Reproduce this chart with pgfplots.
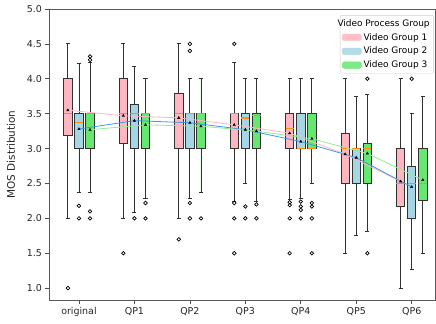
\documentclass[border=0pt]{standalone}
\usepackage{fontspec}
\setmainfont{DejaVu Sans}
\usepackage{pgfplots}
\pgfplotsset{compat=1.18}
\usepgfplotslibrary{statistics}
\definecolor{pinkc}{RGB}{255,182,193}
\definecolor{bluec}{RGB}{166,214,229}
\definecolor{greenc}{RGB}{102,232,112}
\definecolor{medc}{RGB}{255,140,20}
\definecolor{bluel}{RGB}{60,150,235}
\definecolor{greenl}{RGB}{144,238,144}
\definecolor{edgec}{RGB}{50,50,50}
\pgfplotsset{
  bxs/.style={forget plot, draw=edgec, line width=0.8pt,
    mark=o, mark size=1.8pt, mark options={draw=black, fill=none, line width=0.7pt, solid},
    boxplot/draw direction=y,
    boxplot/box extend=0.15, boxplot/whisker extend=0.075,
    boxplot/every median/.style={draw=medc, line width=1.3pt}},
  ml/.style={forget plot, sharp plot, line width=0.8pt, no marks},
  mm/.style={forget plot, only marks, mark=triangle*, mark size=1.4pt, black},
}
\begin{document}
\begin{tikzpicture}
\begin{axis}[
  scale only axis, width=386bp, height=291bp,
  xmin=-0.54, xmax=6.42, ymin=0.83, ymax=5.0,
  xtick={0,1,2,3,4,5,6},
  xticklabels={original,QP1,QP2,QP3,QP4,QP5,QP6},
  ytick={1.0,1.5,2.0,2.5,3.0,3.5,4.0,4.5,5.0},
  yticklabel style={/pgf/number format/.cd, fixed, fixed zerofill, precision=1, assume math mode=true},
  tick label style={font=\fontsize{9.5}{11}\selectfont, text=black!85},
  ylabel={MOS Distribution},
  ylabel style={font=\fontsize{10.5}{12}\selectfont, text=black!85},
  ylabel shift=5bp,
  tick align=outside, tick pos=left,
  major tick length=3.5bp,
  every tick/.style={black!70, line width=0.6pt},
  axis line style={black!65, line width=0.7pt},
  legend cell align=left,
  legend style={at={(rel axis cs:0.997,0.979)}, anchor=north east,
    font=\fontsize{9}{10}\selectfont, draw=black!20, rounded corners=2pt,
    fill=white, fill opacity=0.85, text opacity=1, row sep=1.6bp,
    inner xsep=2bp, inner ysep=2bp},
]
\coordinate (sw) at (rel axis cs:0,0);
\coordinate (ne) at (rel axis cs:1,1);
% original
\addplot[bxs, fill=pinkc, boxplot prepared={draw position=-0.2, lower whisker=2.0, lower quartile=3.19, median=3.5, upper quartile=4.0, upper whisker=4.5}] coordinates {(0,1.0)};
\addplot[bxs, fill=bluec, boxplot prepared={draw position=0, lower whisker=2.37, lower quartile=3.0, median=3.37, upper quartile=3.5, upper whisker=4.22}] coordinates {(0,2.18) (0,2.0)};
\addplot[bxs, fill=greenc, boxplot prepared={draw position=0.2, lower whisker=2.37, lower quartile=3.0, median=3.5, upper quartile=3.5, upper whisker=4.23}] coordinates {(0,4.32) (0,4.27) (0,2.1) (0,2.0)};
% QP1
\addplot[bxs, fill=pinkc, boxplot prepared={draw position=0.8, lower whisker=2.0, lower quartile=3.08, median=3.5, upper quartile=4.0, upper whisker=4.5}] coordinates {(0,1.5)};
\addplot[bxs, fill=bluec, boxplot prepared={draw position=1, lower whisker=2.09, lower quartile=3.0, median=3.5, upper quartile=3.64, upper whisker=4.18}] coordinates {(0,2.0)};
\addplot[bxs, fill=greenc, boxplot prepared={draw position=1.2, lower whisker=2.28, lower quartile=3.0, median=3.5, upper quartile=3.5, upper whisker=4.0}] coordinates {(0,2.22) (0,2.0)};
% QP2
\addplot[bxs, fill=pinkc, boxplot prepared={draw position=1.8, lower whisker=2.0, lower quartile=3.0, median=3.5, upper quartile=3.79, upper whisker=4.5}] coordinates {(0,1.7)};
\addplot[bxs, fill=bluec, boxplot prepared={draw position=2, lower whisker=2.29, lower quartile=3.0, median=3.5, upper quartile=3.5, upper whisker=4.0}] coordinates {(0,4.5) (0,4.4) (0,2.22) (0,2.0)};
\addplot[bxs, fill=greenc, boxplot prepared={draw position=2.2, lower whisker=2.37, lower quartile=3.0, median=3.5, upper quartile=3.5, upper whisker=4.0}] coordinates {(0,2.0)};
% QP3
\addplot[bxs, fill=pinkc, boxplot prepared={draw position=2.8, lower whisker=2.25, lower quartile=3.0, median=3.5, upper quartile=3.5, upper whisker=4.24}] coordinates {(0,4.5) (0,2.22) (0,2.0) (0,1.5)};
\addplot[bxs, fill=bluec, boxplot prepared={draw position=3, lower whisker=2.5, lower quartile=3.0, median=3.44, upper quartile=3.5, upper whisker=4.0}] coordinates {(0,2.17) (0,2.0)};
\addplot[bxs, fill=greenc, boxplot prepared={draw position=3.2, lower whisker=2.25, lower quartile=3.0, median=3.47, upper quartile=3.5, upper whisker=4.0}] coordinates {(0,2.2) (0,2.0)};
% QP4
\addplot[bxs, fill=pinkc, boxplot prepared={draw position=3.8, lower whisker=2.27, lower quartile=3.0, median=3.29, upper quartile=3.5, upper whisker=4.0}] coordinates {(0,2.23) (0,2.19) (0,2.0) (0,1.5)};
\addplot[bxs, fill=bluec, boxplot prepared={draw position=4, lower whisker=2.29, lower quartile=3.0, median=3.0, upper quartile=3.5, upper whisker=4.0}] coordinates {(0,2.24) (0,2.17) (0,2.12) (0,2.0)};
\addplot[bxs, fill=greenc, boxplot prepared={draw position=4.2, lower whisker=2.5, lower quartile=3.0, median=3.0, upper quartile=3.5, upper whisker=4.0}] coordinates {(0,2.22) (0,2.17) (0,2.0) (0,1.5)};
% QP5
\addplot[bxs, fill=pinkc, boxplot prepared={draw position=4.8, lower whisker=1.5, lower quartile=2.5, median=3.0, upper quartile=3.22, upper whisker=4.0}] coordinates {};
\addplot[bxs, fill=bluec, boxplot prepared={draw position=5, lower whisker=1.75, lower quartile=2.5, median=3.0, upper quartile=3.0, upper whisker=3.75}] coordinates {};
\addplot[bxs, fill=greenc, boxplot prepared={draw position=5.2, lower whisker=1.82, lower quartile=2.5, median=3.0, upper quartile=3.08, upper whisker=3.78}] coordinates {(0,4.0) (0,1.5)};
% QP6
\addplot[bxs, fill=pinkc, boxplot prepared={draw position=5.8, lower whisker=1.0, lower quartile=2.17, median=2.5, upper quartile=3.0, upper whisker=4.0}] coordinates {};
\addplot[bxs, fill=bluec, boxplot prepared={draw position=6, lower whisker=1.27, lower quartile=2.0, median=2.5, upper quartile=2.74, upper whisker=3.5}] coordinates {(0,4.0)};
\addplot[bxs, fill=greenc, boxplot prepared={draw position=6.2, lower whisker=1.5, lower quartile=2.26, median=2.5, upper quartile=3.0, upper whisker=3.75}] coordinates {};
% mean lines
\addplot[ml, pinkc] coordinates {(-0.2,3.55) (0.8,3.47) (1.8,3.44) (2.8,3.34) (3.8,3.22) (4.8,2.92) (5.8,2.53)};
\addplot[ml, bluel] coordinates {(0,3.28) (1,3.40) (2,3.37) (3,3.27) (4,3.10) (5,2.87) (6,2.45)};
\addplot[ml, greenl] coordinates {(0.2,3.27) (1.2,3.34) (2.2,3.32) (3.2,3.25) (4.2,3.14) (5.2,2.93) (6.2,2.55)};
% mean markers
\addplot[mm] coordinates {(-0.2,3.55) (0.8,3.47) (1.8,3.44) (2.8,3.34) (3.8,3.22) (4.8,2.92) (5.8,2.53)};
\addplot[mm] coordinates {(0,3.28) (1,3.40) (2,3.37) (3,3.27) (4,3.10) (5,2.87) (6,2.45)};
\addplot[mm] coordinates {(0.2,3.27) (1.2,3.34) (2.2,3.32) (3.2,3.25) (4.2,3.14) (5.2,2.93) (6.2,2.55)};
% legend
\addlegendimage{legend image code/.code={}}
\addlegendentry{\hspace*{-26bp}Video Process Group}
\addlegendimage{legend image code/.code={\fill[pinkc] (0bp,-3.2bp) rectangle (19bp,3.2bp);}}
\addlegendentry{Video Group 1}
\addlegendimage{legend image code/.code={\fill[bluec] (0bp,-3.2bp) rectangle (19bp,3.2bp);}}
\addlegendentry{Video Group 2}
\addlegendimage{legend image code/.code={\fill[greenc] (0bp,-3.2bp) rectangle (19bp,3.2bp);}}
\addlegendentry{Video Group 3}
\end{axis}
\pgfresetboundingbox
\path ([xshift=-49bp,yshift=-24bp]sw) rectangle ([xshift=1bp,yshift=9bp]ne);
\end{tikzpicture}
\end{document}
